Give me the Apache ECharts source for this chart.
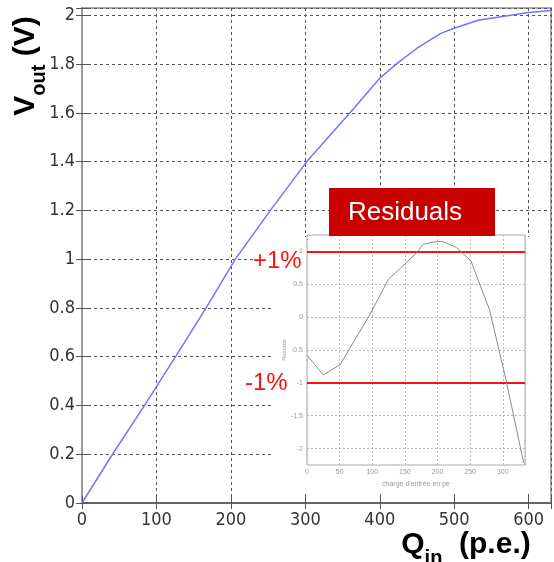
<!DOCTYPE html>
<html>
<head>
<meta charset="utf-8">
<script src="https://cdn.jsdelivr.net/npm/echarts@6/dist/echarts.min.js"></script>
<style>
html,body{margin:0;padding:0;background:#fff;}
#c{width:554px;height:562px;}
</style>
</head>
<body>
<div id="c"></div>
<script>
// Main curve: Vout (V) vs Qin (p.e.)
const qIn  = [0, 41, 84, 125.7, 166.7, 206, 253, 302, 360, 400, 422, 450, 482, 500, 532, 600, 630];
const vOut = [0, 0.2, 0.4, 0.6, 0.8, 1.0, 1.2, 1.4, 1.6, 1.742, 1.8, 1.865, 1.926, 1.947, 1.98, 2.012, 2.02];
// Inset: residuals (%) vs charge
const resX = [0, 25, 51, 76, 97, 125, 147, 168, 178, 198, 208, 229, 251, 280, 305, 332];
const resY = [-0.58, -0.88, -0.72, -0.30, 0.05, 0.58, 0.78, 0.98, 1.11, 1.15, 1.15, 1.06, 0.86, 0.10, -0.96, -2.22];
const insetYTicks = [1, 0.5, 0, -0.5, -1, -1.5, -2];
const limitLines = [1, -1];
const limitLabels = ['+1%', '-1%'];

const NF = "'Liberation Sans Narrow','DejaVu Sans Condensed','Liberation Sans',sans-serif";
const SF = "'Liberation Sans',Arial,sans-serif";

function isMult(v, s) { return Math.abs(v / s - Math.round(v / s)) < 1e-6; }

const gridMarks = insetYTicks.map(v => ({
  yAxis: v, lineStyle: {color: '#bbb', type: [2, 2], width: 1}
}));
const redMarks = limitLines.map(v => ({
  yAxis: v, lineStyle: {color: '#ff1010', type: 'solid', width: 2}
}));

const chart = echarts.init(document.getElementById('c'), null, {renderer: 'canvas'});
const option = {
  animation: false,
  backgroundColor: '#fff',
  grid: [
    {left: 82, top: 8, width: 471, height: 495, show: true, borderColor: '#aaa', borderWidth: 2, z: 0},
    {left: 307, top: 235, width: 218, height: 230, show: true, backgroundColor: '#fff', borderColor: '#aaa', borderWidth: 1, z: 10}
  ],
  xAxis: [
    {
      gridIndex: 0, type: 'value', min: 0, max: 630, interval: 100,
      axisLine: {show: true, lineStyle: {color: '#666', width: 2}},
      axisTick: {show: true, inside: true, length: 7, lineStyle: {color: '#555', width: 1}},
      axisLabel: {color: '#333', fontFamily: NF, fontSize: 18, margin: 8,
        formatter: v => (isMult(v, 100) ? String(v) : '')},
      splitLine: {show: true, lineStyle: {color: '#555', type: [3, 3], width: 1}}
    },
    {
      gridIndex: 0, type: 'value', min: 0, max: 630, interval: 100, position: 'top',
      axisLine: {show: false},
      axisTick: {show: true, inside: true, length: 6, lineStyle: {color: '#555'}},
      axisLabel: {show: false}, splitLine: {show: false}
    },
    {
      gridIndex: 1, type: 'value', min: 0, max: 334, interval: 50, z: 11,
      name: "charge d'entrée en pe", nameLocation: 'middle', nameGap: 16,
      nameTextStyle: {color: '#999', fontSize: 7, fontFamily: SF},
      axisLine: {show: false},
      axisTick: {show: false},
      axisLabel: {color: '#999', fontSize: 7, fontFamily: SF, margin: 4,
        formatter: v => (isMult(v, 50) ? String(v) : '')},
      splitLine: {show: true, lineStyle: {color: '#bbb', type: [2, 2], width: 1}}
    }
  ],
  yAxis: [
    {
      gridIndex: 0, type: 'value', min: 0, max: 2.03, interval: 0.2,
      axisLine: {show: true, lineStyle: {color: '#999', width: 2}},
      axisTick: {show: true, inside: true, length: 7, lineStyle: {color: '#555', width: 1}},
      axisLabel: {color: '#333', fontFamily: NF, fontSize: 18, margin: 7,
        formatter: v => ((isMult(v, 0.2) && v <= 2.0001) ? String(+v.toFixed(1)) : '')},
      splitLine: {show: true, lineStyle: {color: '#555', type: [3, 3], width: 1}}
    },
    {
      gridIndex: 0, type: 'value', min: 0, max: 2.03, interval: 0.2, position: 'right',
      axisLine: {show: false},
      axisTick: {show: true, inside: true, length: 6, lineStyle: {color: '#555'}},
      axisLabel: {show: false}, splitLine: {show: false}
    },
    {
      gridIndex: 1, type: 'value', min: -2.25, max: 1.25, interval: 0.25, z: 11,
      name: 'Residus', nameLocation: 'middle', nameGap: 16, nameRotate: 90,
      nameTextStyle: {color: '#999', fontSize: 6, fontFamily: SF},
      axisLine: {show: false},
      axisTick: {show: false},
      axisLabel: {color: '#999', fontSize: 7, fontFamily: SF, margin: 4,
        formatter: v => ((isMult(v, 0.5) && v < 1.1) ? String(+v.toFixed(1)) : '')},
      splitLine: {show: false}
    }
  ],
  series: [
    {
      type: 'line', xAxisIndex: 0, yAxisIndex: 0, z: 3,
      data: qIn.map((q, i) => [q, vOut[i]]),
      showSymbol: false, symbol: 'none',
      lineStyle: {color: '#7474ff', width: 1.5}
    },
    {
      type: 'line', xAxisIndex: 2, yAxisIndex: 2, z: 13,
      data: resX.map((x, i) => [x, resY[i]]),
      showSymbol: false, symbol: 'none',
      lineStyle: {color: '#8a8a8a', width: 1},
      markLine: {
        silent: true, symbol: 'none', label: {show: false}, z: 12,
        data: gridMarks.concat(redMarks)
      }
    }
  ],
  graphic: [
    {type: 'rect', z: 4, shape: {x: 271, y: 237, width: 277, height: 256}, style: {fill: '#fff'}, silent: true},
    {type: 'rect', z: 20, shape: {x: 329, y: 188, width: 166, height: 48}, style: {fill: '#c80000'}},
    {type: 'text', z: 21, x: 405, y: 213,
      style: {text: 'Residuals', fill: '#fff', font: "26px " + SF, textAlign: 'center', textVerticalAlign: 'middle'}},
    {type: 'text', z: 5, x: 253, y: 261,
      style: {text: limitLabels[0], fill: '#ff1010', font: "24px " + SF, textAlign: 'left', textVerticalAlign: 'middle', backgroundColor: '#fff'}},
    {type: 'text', z: 5, x: 245, y: 383,
      style: {text: limitLabels[1], fill: '#ff1010', font: "24px " + SF, textAlign: 'left', textVerticalAlign: 'middle'}},
    {type: 'text', z: 21, x: 26, y: 66, rotation: Math.PI / 2,
      style: {
        text: '{a|V}{b|out}{a| (V)}',
        textAlign: 'center', textVerticalAlign: 'middle',
        rich: {
          a: {fontSize: 30, fontWeight: 'bold', fontFamily: SF, fill: '#000', lineHeight: 34},
          b: {fontSize: 20, fontWeight: 'bold', fontFamily: SF, fill: '#000', lineHeight: 46, verticalAlign: 'bottom'}
        }
      }},
    {type: 'text', z: 21, x: 466, y: 545,
      style: {
        text: '{a|Q}{b|in}{a|  (p.e.)}',
        textAlign: 'center', textVerticalAlign: 'middle',
        rich: {
          a: {fontSize: 30, fontWeight: 'bold', fontFamily: SF, fill: '#000', lineHeight: 34},
          b: {fontSize: 20, fontWeight: 'bold', fontFamily: SF, fill: '#000', lineHeight: 46, verticalAlign: 'bottom'}
        }
      }}
  ]
};
chart.setOption(option);
</script>
</body>
</html>
